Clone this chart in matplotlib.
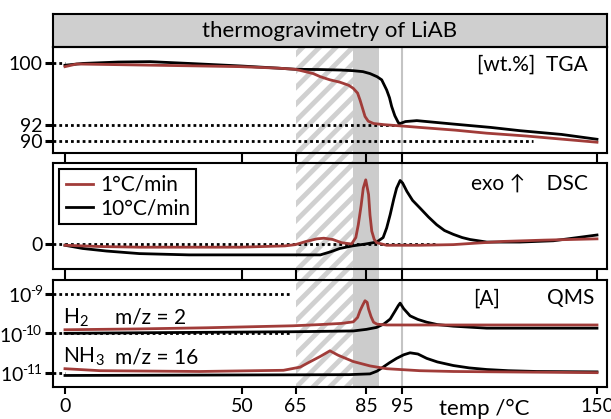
import numpy as np
import matplotlib.pyplot as plt

# ----------------------------
# GIVEN DATA
# ----------------------------
red = '#a13c39'
band_gray = '#cccccc'

xticks = [0, 50, 65, 85, 95, 150]

# TGA [wt.%]
tga_10_x = [0, 5, 15, 24, 35, 49.4, 60, 65, 72, 78, 81.3, 84, 86, 88, 89.3, 90.7, 91.5,
            92.1, 93, 94, 94.5, 96, 99.2, 102, 109.5, 120, 128.3, 140, 150]
tga_10_y = [99.67, 99.9, 100.08, 100.13, 99.9, 99.58, 99.3, 99.15, 99.12, 99.05, 98.97,
            98.85, 98.6, 98.2, 97.8, 96.5, 95.5, 94.4, 93.2, 92.3, 92.2, 92.45, 92.57,
            92.45, 92.13, 91.7, 91.28, 90.8, 90.18]

tga_1_x = [0, 3.3, 10, 21, 35, 49.4, 60, 65, 70, 72, 74.7, 77.5, 80, 81.3, 82.5, 83.2,
           84, 84.6, 85.5, 87, 90, 94.5, 100, 110, 118.9, 130, 140, 150]
tga_1_y = [99.49, 99.83, 99.78, 99.7, 99.6, 99.49, 99.3, 99.15, 98.6, 98.2, 97.8, 97.5,
           97.1, 96.7, 96.1, 95.2, 94.0, 93.1, 92.5, 92.2, 92.05, 91.9, 91.7, 91.35,
           90.96, 90.6, 90.2, 89.8]

# DSC (arbitrary units, peak ~ 1)
dsc_1_x = [0, 10, 21, 49.4, 62, 65, 68, 71, 73, 75.5, 78, 80.8, 82, 82.7, 83.5, 84.1,
           84.8, 85.6, 86, 86.5, 87.2, 87.9, 90.7, 100, 109.5, 115, 123.6, 135, 150]
dsc_1_y = [-0.02, -0.04, -0.05, -0.05, -0.03, -0.01, 0.04, 0.08, 0.09, 0.07, 0.02, 0.0,
           0.1, 0.3, 0.6, 0.87, 1.0, 0.77, 0.45, 0.2, 0.07, 0.02, -0.02, -0.02, -0.01,
           0.01, 0.04, 0.06, 0.08]

dsc_10_x = [0, 5, 11.7, 21, 35, 49.4, 65, 72, 75, 77.5, 81, 84.8, 87.9, 89.7, 90.7,
            91.7, 92.7, 93.5, 94.5, 95.2, 96.4, 98, 100.1, 102.5, 104.8, 107, 109.5,
            112, 114.2, 118.9, 128.3, 137.7, 150]
dsc_10_y = [-0.02, -0.07, -0.11, -0.15, -0.17, -0.17, -0.17, -0.17, -0.12, -0.07, -0.03,
            0.0, 0.03, 0.1, 0.25, 0.46, 0.7, 0.87, 0.99, 0.95, 0.82, 0.68, 0.56, 0.42,
            0.3, 0.21, 0.15, 0.1, 0.07, 0.03, 0.03, 0.05, 0.14]

# QMS, log10 of ion current [A]
h2_1_x = [0, 20, 40, 64.3, 71.9, 78, 81.3, 82.5, 83.2, 84, 84.6, 85.2, 85.6, 86.3, 87,
          88, 90.7, 100, 150]
h2_1_log = [-9.91, -9.89, -9.86, -9.81, -9.78, -9.75, -9.71, -9.6, -9.43, -9.28, -9.18,
            -9.22, -9.39, -9.58, -9.72, -9.77, -9.79, -9.79, -9.79]

h2_10_x = [0, 30, 64.3, 81.3, 85, 87.9, 90, 91.7, 93, 94, 94.5, 95.5, 97.3, 99.5, 102,
           105, 109.5, 118.9, 150]
h2_10_log = [-10.0, -9.98, -9.96, -9.94, -9.9, -9.85, -9.76, -9.64, -9.45, -9.3, -9.24,
             -9.38, -9.56, -9.65, -9.72, -9.78, -9.82, -9.87, -9.87]

nh3_1_x = [0, 9.9, 38, 61.6, 66.3, 69, 72, 74.7, 77, 81.3, 86, 90.7, 100, 109.5, 150]
nh3_1_log = [-10.89, -10.94, -10.96, -10.93, -10.85, -10.72, -10.58, -10.44, -10.55,
             -10.71, -10.82, -10.89, -10.94, -10.96, -10.99]

nh3_10_x = [0, 40, 80, 86, 88, 89.7, 91.5, 93.5, 95.5, 97.3, 99.5, 102, 105, 109.5, 114,
            118.9, 125, 133, 150]
nh3_10_log = [-11.06, -11.05, -11.04, -11.02, -10.95, -10.85, -10.74, -10.63, -10.54,
              -10.49, -10.52, -10.63, -10.72, -10.81, -10.87, -10.91, -10.94, -10.96,
              -10.97]

qms_ticks = [1e-9, 1e-10, 1e-11]
qms_labels = ['$10^{\\text{-}\\!9}$', '$10^{\\text{-}\\!10}$', '$10^{\\text{-}\\!11}$']

# ----------------------------
# STYLE
# ----------------------------
plt.rcParams['font.family'] = ['Lato', 'DejaVu Sans']
plt.rcParams['font.size'] = 15
plt.rcParams['xtick.labelsize'] = 14
plt.rcParams['ytick.labelsize'] = 14
plt.rcParams['mathtext.fontset'] = 'custom'
plt.rcParams['mathtext.rm'] = 'Lato'
plt.rcParams['mathtext.it'] = 'Lato:italic'
plt.rcParams['mathtext.bf'] = 'Lato:bold'
plt.rcParams['hatch.linewidth'] = 3.5
plt.rcParams['axes.linewidth'] = 1.5

xlim = (-3.47, 152.9)
lw = 2.0
dots = (0, (1, 1.1))
dlw = 2.0

fig = plt.figure(figsize=(6.11, 4.19), dpi=100)
L, W = 0.0862, 0.9077

# background with the shaded temperature bands (spans all three panels)
bg = fig.add_axes([L, 0.0764, W, 0.8885 - 0.0764], zorder=0)
bg.set_xlim(xlim)
bg.set_ylim(0, 1)
bg.axis('off')
bg.axvspan(65, 81.3, facecolor='white', edgecolor='#d0d0d0', hatch='//', linewidth=0)
bg.axvspan(81.3, 88.6, facecolor=band_gray, linewidth=0)
bg.axvline(95, color='#c4c4c4', lw=1.5)

# title bar
tb = fig.add_axes([L, 0.8885, W, 0.0781], zorder=2)
tb.set_facecolor('#cfcfcf')
tb.set_xticks([])
tb.set_yticks([])
tb.text(0.5, 0.47, 'thermogravimetry of LiAB', ha='center', va='center',
        fontsize=16, transform=tb.transAxes)

ax1 = fig.add_axes([L, 0.6356, W, 0.2530], zorder=2)
ax2 = fig.add_axes([L, 0.3580, W, 0.2523], zorder=2)
ax3 = fig.add_axes([L, 0.0764, W, 0.2547], zorder=2)

for ax in (ax1, ax2, ax3):
    ax.set_facecolor('none')
    ax.set_xlim(xlim)
    ax.set_xticks(xticks)
    ax.tick_params(axis='y', direction='out', length=6, width=2.2, pad=1)

ax1.tick_params(axis='x', direction='out', length=7.6, width=1.5, labelbottom=False)
ax2.tick_params(axis='x', direction='out', length=7.6, width=1.5, labelbottom=False)
ax3.tick_params(axis='x', direction='out', length=5, width=1.5, pad=3)

# ----------------------------
# TGA
# ----------------------------
ax1.set_ylim(88.46, 102.05)
ax1.set_yticks([100, 92, 90])
ax1.plot([xlim[0], 0], [100, 100], color='black', lw=dlw, ls=dots)
ax1.plot([xlim[0], 95], [92, 92], color='black', lw=dlw, ls=dots)
ax1.plot([xlim[0], 132], [90, 90], color='black', lw=dlw, ls=dots)
ax1.plot(tga_10_x, tga_10_y, color='black', lw=lw)
ax1.plot(tga_1_x, tga_1_y, color=red, lw=lw)
ax1.text(0.965, 0.827, '[wt.%]  TGA', ha='right', va='center', transform=ax1.transAxes)

# ----------------------------
# DSC
# ----------------------------
ax2.set_ylim(-0.39, 1.258)
ax2.set_yticks([0])
ax2.plot([xlim[0], 105], [0, 0], color='black', lw=dlw, ls=dots)
ax2.plot(dsc_1_x, dsc_1_y, color=red, lw=lw, label='1°C/min', zorder=3)
ax2.plot(dsc_10_x, dsc_10_y, color='black', lw=lw, label='10°C/min')
ax2.text(0.965, 0.81, 'exo \u2191    DSC', ha='right', va='center', transform=ax2.transAxes)
leg = ax2.legend(loc='upper left', bbox_to_anchor=(0.012, 0.949), borderaxespad=0,
                 fancybox=False, framealpha=1, edgecolor='black', handlelength=1.3,
                 handletextpad=0.35, labelspacing=0.15, borderpad=0.3)
leg.get_frame().set_linewidth(1.5)

# ----------------------------
# QMS
# ----------------------------
ax3.set_yscale('log')
ax3.set_ylim(10 ** -11.35, 10 ** -8.665)
ax3.set_yticks(qms_ticks)
ax3.set_yticklabels(qms_labels)
ax3.minorticks_off()
ax3.plot([xlim[0], 64], [1e-9, 1e-9], color='black', lw=dlw, ls=dots)
ax3.plot([xlim[0], 64], [1e-10, 1e-10], color='black', lw=dlw, ls=dots)
ax3.plot([xlim[0], 0], [1e-11, 1e-11], color='black', lw=dlw, ls=dots)
ax3.plot(h2_10_x, 10 ** np.array(h2_10_log), color='black', lw=lw)
ax3.plot(nh3_10_x, 10 ** np.array(nh3_10_log), color='black', lw=lw)
ax3.plot(h2_1_x, 10 ** np.array(h2_1_log), color=red, lw=lw)
ax3.plot(nh3_1_x, 10 ** np.array(nh3_1_log), color=red, lw=lw)
ax3.text(-0.5, 10 ** -9.6, 'H$_2$', va='center')
ax3.text(14.1, 10 ** -9.6, 'm/z = 2', va='center')
ax3.text(-0.5, 10 ** -10.6, 'NH$_3$', va='center')
ax3.text(14.1, 10 ** -10.6, 'm/z = 16', va='center')
ax3.text(0.8065, 0.83, '[A]', ha='right', va='center', transform=ax3.transAxes)
ax3.text(0.976, 0.83, 'QMS', ha='right', va='center', transform=ax3.transAxes)

fig.text(439 / 611, 1 - 409 / 419, 'temp /°C', ha='left', va='center', fontsize=16)

plt.savefig('out.png', dpi=100)
